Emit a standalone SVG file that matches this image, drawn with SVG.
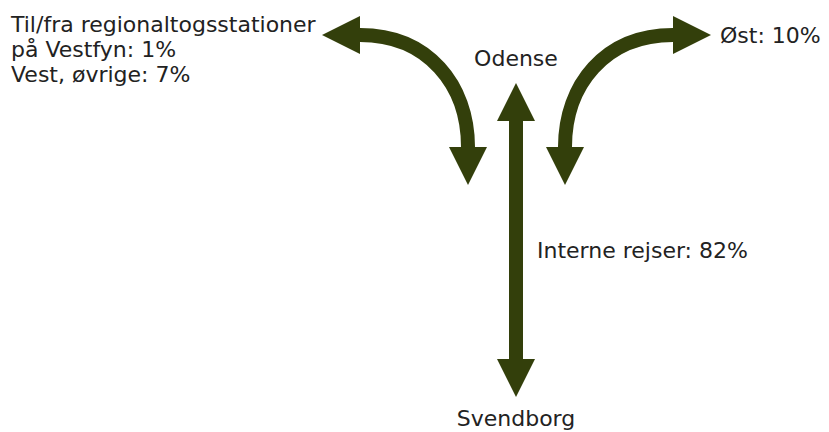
<svg xmlns="http://www.w3.org/2000/svg" width="829" height="432" viewBox="0 0 829 432">
<style>
.lbl{font-family:"DejaVu Sans",Verdana,sans-serif;font-size:22px;fill:#222}
.shaft{fill:none;stroke:#333f0b;stroke-width:14;stroke-linecap:butt}
</style>
<defs>
<marker id="head" markerUnits="userSpaceOnUse" markerWidth="38" markerHeight="38" refX="0" refY="19" orient="auto-start-reverse" viewBox="0 0 38 38">
<path d="M0,0 L38,19 L0,38 z" fill="#333f0b"/>
</marker>
</defs>
<rect width="829" height="432" fill="#fff"/>
<g id="connectors">
<path class="shaft" d="M360,35 C428,35 468,85 468,147" marker-start="url(#head)" marker-end="url(#head)"/>
<path class="shaft" d="M673,35 C605,35 565,85 565,147" marker-start="url(#head)" marker-end="url(#head)"/>
<path class="shaft" d="M516,121 L516,359" marker-start="url(#head)" marker-end="url(#head)"/>
</g>
<g id="vest">
<text class="lbl" x="11" y="32">Til/fra regionaltogsstationer</text>
<text class="lbl" x="11" y="57">på Vestfyn: 1%</text>
<text class="lbl" x="11" y="82">Vest, øvrige: 7%</text>
</g>
<g id="odense"><text class="lbl" x="516" y="66" text-anchor="middle">Odense</text></g>
<g id="ost"><text class="lbl" x="720" y="43">Øst: 10%</text></g>
<g id="interne"><text class="lbl" x="537" y="258">Interne rejser: 82%</text></g>
<g id="svendborg"><text class="lbl" x="516" y="426" text-anchor="middle">Svendborg</text></g>
</svg>
